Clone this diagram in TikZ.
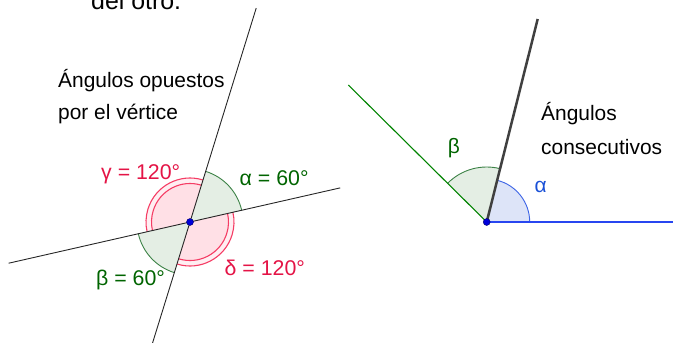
\documentclass[tikz,border=0pt]{standalone}
\usepackage{fontspec}
\setmainfont{Liberation Sans}
\definecolor{gtxt}{RGB}{0,100,0}
\definecolor{garc}{RGB}{60,130,70}
\definecolor{gfill}{RGB}{228,238,228}
\definecolor{gray1}{RGB}{64,64,64}
\definecolor{rtxt}{RGB}{228,20,70}
\definecolor{rarc}{RGB}{245,60,100}
\definecolor{rfill}{RGB}{255,224,230}
\definecolor{rring}{RGB}{255,238,242}
\definecolor{btxt}{RGB}{25,80,215}
\definecolor{barc}{RGB}{60,100,230}
\definecolor{bline}{RGB}{40,70,240}
\definecolor{bfill}{RGB}{221,228,248}
\begin{document}
\begin{tikzpicture}[x=1bp,y=1bp,
  lbl/.style={font=\fontsize{21}{25}\selectfont, inner sep=0pt, anchor=base west},
  mlbl/.style={font=\fontsize{21.4}{25}\selectfont, inner sep=0pt, anchor=base west},
  glyph/.style={font=\fontsize{21}{25}\selectfont, inner sep=0pt},
  thinline/.style={draw=black!85, line width=0.9bp},
  vdot/.style={circle, fill=blue!85!black, draw=blue!40!black, line width=0.4bp, minimum size=7bp, inner sep=0pt}
]
\useasboundingbox (0,0) rectangle (673,342);
% ---------- left figure ----------
\coordinate (O1) at (190,120);
\coordinate (T1) at ([shift={(72.8:224)}]O1);
\coordinate (B1) at ([shift={(252.8:128)}]O1);
\coordinate (R1) at ([shift={(12.8:154)}]O1);
\coordinate (L1) at ([shift={(192.8:186)}]O1);
% fills
\fill[gfill] (O1) -- ++(12.8:53) arc[start angle=12.8, end angle=72.8, radius=53bp] -- cycle;
\fill[gfill] (O1) -- ++(192.8:53) arc[start angle=192.8, end angle=252.8, radius=53bp] -- cycle;
\fill[rring] (O1) -- ++(72.8:44) arc[start angle=72.8, end angle=192.8, radius=44bp] -- cycle;
\fill[rring] (O1) -- ++(252.8:44) arc[start angle=252.8, end angle=372.8, radius=44bp] -- cycle;
\fill[rfill] (O1) -- ++(72.8:38.5) arc[start angle=72.8, end angle=192.8, radius=38.5bp] -- cycle;
\fill[rfill] (O1) -- ++(252.8:38.5) arc[start angle=252.8, end angle=372.8, radius=38.5bp] -- cycle;
% arcs
\draw[garc, line width=0.9bp] ([shift={(12.8:53)}]O1) arc[start angle=12.8, end angle=72.8, radius=53bp];
\draw[garc, line width=0.9bp] ([shift={(192.8:53)}]O1) arc[start angle=192.8, end angle=252.8, radius=53bp];
\foreach \r in {44,38.5}{
  \draw[rarc, line width=1.1bp] ([shift={(72.8:\r)}]O1) arc[start angle=72.8, end angle=192.8, radius=\r bp];
  \draw[rarc, line width=1.1bp] ([shift={(252.8:\r)}]O1) arc[start angle=252.8, end angle=372.8, radius=\r bp];
}
% lines
\draw[thinline] (B1) -- (T1);
\draw[thinline] (L1) -- (R1);
\node[vdot] (v1) at (O1) {};
% labels
\node[mlbl, text=rtxt] (lg) at (101,163) {γ = 120°};
\node[mlbl, text=gtxt] (la) at (239.5,156.7) {α = 60°};
\node[mlbl, text=gtxt] (lb) at (96,57) {β = 60°};
\node[mlbl, text=rtxt] (ld) at (224.5,66.7) {δ = 120°};
\node[lbl] (t1) at (58,254.7) {Ángulos opuestos};
\node[lbl] (t2) at (58,223) {por el vértice};
\node[anchor=base west, font=\fontsize{25}{30}\selectfont, inner sep=0pt] (top) at (91,333) {del otro.};
% ---------- right figure ----------
\coordinate (O2) at (486.7,120);
\coordinate (E2) at (673,120);
\coordinate (U2) at (537.7,323);
\coordinate (W2) at (348.3,257);
\fill[bfill] (O2) -- ++(0:43) arc[start angle=0, end angle=75.9, radius=43bp] -- cycle;
\fill[gfill] (O2) -- ++(75.9:55) arc[start angle=75.9, end angle=135.3, radius=55bp] -- cycle;
\draw[barc, line width=0.9bp] ([shift={(0:43)}]O2) arc[start angle=0, end angle=75.9, radius=43bp];
\draw[garc, line width=0.9bp] ([shift={(75.9:55)}]O2) arc[start angle=75.9, end angle=135.3, radius=55bp];
\draw[bline, line width=1.1bp] (O2) -- (E2);
\draw[gtxt!80!green, line width=1.1bp] (O2) -- (W2);
\draw[gray1, line width=2.5bp] (O2) -- (U2);
\node[vdot] (v2) at (O2) {};
\node[glyph, text=gtxt] (rb) at (454,193.7) {β};
\node[glyph, text=btxt] (ra) at (540.7,154.7) {α};
\node[lbl] (t3) at (541,221.3) {Ángulos};
\node[lbl] (t4) at (541,188) {consecutivos};
\end{tikzpicture}
\end{document}
